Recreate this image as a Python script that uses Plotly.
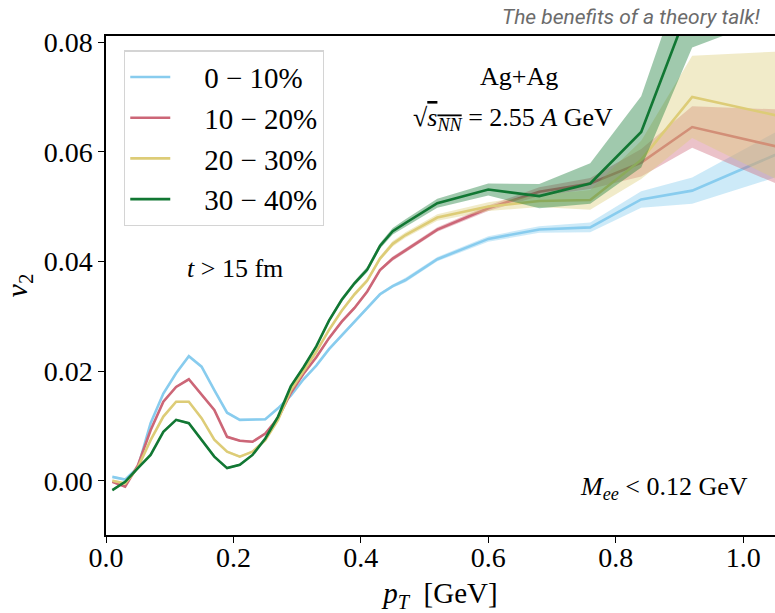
import plotly.graph_objects as go

# transverse-momentum grid [GeV]
pt = [0.01, 0.03, 0.05, 0.07, 0.09, 0.11, 0.13, 0.15, 0.17, 0.19, 0.21, 0.23,
      0.25, 0.27, 0.29, 0.31, 0.33, 0.35, 0.37, 0.39, 0.41, 0.43, 0.45, 0.47,
      0.52, 0.60, 0.68, 0.76, 0.84, 0.92, 1.08]

labels = ["0 − 10%", "10 − 20%", "20 − 30%", "30 − 40%"]
colors = ["#88CCEE", "#CC6677", "#DDCC77", "#117733"]
fills = ["rgba(136,204,238,0.42)", "rgba(204,102,119,0.40)",
         "rgba(221,204,119,0.40)", "rgba(17,119,51,0.40)"]

# elliptic flow v2 per centrality class
v2_0_10 = [0.0007, 0.0002, 0.0024, 0.0105, 0.0159, 0.0196, 0.0227, 0.0208,
           0.0165, 0.0124, 0.0111, 0.0111, 0.0112, 0.0132, 0.0155, 0.0185,
           0.0210, 0.0240, 0.0265, 0.0290, 0.0315, 0.0340, 0.0355, 0.0366,
           0.0404, 0.0441, 0.0458, 0.0462, 0.0513, 0.0529, 0.0609]
v2_10_20 = [-0.0002, -0.0011, 0.0028, 0.0092, 0.0144, 0.0171, 0.0185, 0.0156,
            0.0129, 0.0080, 0.0073, 0.0071, 0.0086, 0.0114, 0.0160, 0.0195,
            0.0225, 0.0260, 0.0290, 0.0315, 0.0345, 0.0384, 0.0405, 0.0420,
            0.0458, 0.0497, 0.0527, 0.0542, 0.0580, 0.0645, 0.0602]
v2_20_30 = [0.0000, -0.0005, 0.0024, 0.0074, 0.0117, 0.0144, 0.0144, 0.0114,
            0.0075, 0.0053, 0.0044, 0.0053, 0.0074, 0.0111, 0.0165, 0.0200,
            0.0235, 0.0275, 0.0310, 0.0340, 0.0365, 0.0405, 0.0432, 0.0448,
            0.0480, 0.0500, 0.0510, 0.0512, 0.0585, 0.0700, 0.0659]
v2_30_40 = [-0.0017, -0.0002, 0.0023, 0.0047, 0.0089, 0.0111, 0.0105, 0.0074,
            0.0044, 0.0023, 0.0029, 0.0047, 0.0077, 0.0117, 0.0172, 0.0207,
            0.0245, 0.0292, 0.0330, 0.0360, 0.0385, 0.0428, 0.0455, 0.0470,
            0.0506, 0.0531, 0.0519, 0.0542, 0.0636, 0.0880, 0.0980]

# statistical uncertainty (half width of the band)
err_0_10 = [0.0002, 0.0002, 0.0002, 0.0002, 0.0002, 0.0002, 0.0002, 0.0002,
            0.0002, 0.0002, 0.0002, 0.0002, 0.0002, 0.0002, 0.0002, 0.0002,
            0.0002, 0.0003, 0.0003, 0.0003, 0.0003, 0.0003, 0.0003, 0.0004,
            0.0004, 0.0005, 0.0006, 0.0009, 0.0015, 0.0024, 0.0045]
err_10_20 = [0.0002, 0.0002, 0.0002, 0.0002, 0.0002, 0.0002, 0.0002, 0.0002,
             0.0002, 0.0002, 0.0002, 0.0002, 0.0002, 0.0002, 0.0002, 0.0002,
             0.0003, 0.0003, 0.0003, 0.0003, 0.0003, 0.0003, 0.0004, 0.0004,
             0.0004, 0.0005, 0.0008, 0.0010, 0.0025, 0.0038, 0.0074]
err_20_30 = [0.0002, 0.0002, 0.0002, 0.0002, 0.0002, 0.0002, 0.0002, 0.0002,
             0.0002, 0.0002, 0.0002, 0.0002, 0.0002, 0.0002, 0.0002, 0.0003,
             0.0003, 0.0003, 0.0003, 0.0004, 0.0004, 0.0004, 0.0005, 0.0005,
             0.0006, 0.0008, 0.0011, 0.0018, 0.0035, 0.0075, 0.0125]
err_30_40 = [0.0002, 0.0002, 0.0002, 0.0002, 0.0002, 0.0002, 0.0002, 0.0002,
             0.0002, 0.0002, 0.0002, 0.0002, 0.0002, 0.0002, 0.0003, 0.0003,
             0.0003, 0.0004, 0.0004, 0.0004, 0.0005, 0.0005, 0.0006, 0.0007,
             0.0008, 0.0011, 0.0022, 0.0037, 0.0065, 0.0090, 0.0120]

series = [v2_0_10, v2_10_20, v2_20_30, v2_30_40]
errors = [err_0_10, err_10_20, err_20_30, err_30_40]

y_ticks = [0.00, 0.02, 0.04, 0.06, 0.08]
x_ticks = [0.0, 0.2, 0.4, 0.6, 0.8, 1.0]

SERIF = "Liberation Serif, serif"
PAD = "\u00a0\u00a0\u00a0\u00a0"  # gap between legend line sample and its label

fig = go.Figure()
for name, col, fc, v, e in zip(labels, colors, fills, series, errors):
    upper = [a + b for a, b in zip(v, e)]
    lower = [a - b for a, b in zip(v, e)]
    fig.add_trace(go.Scatter(
        x=pt + pt[::-1], y=upper + lower[::-1], fill="toself",
        fillcolor=fc, line=dict(width=0), mode="lines",
        hoverinfo="skip", showlegend=False, legendgroup=name))
    fig.add_trace(go.Scatter(
        x=pt, y=v, mode="lines", name=PAD + name, legendgroup=name,
        line=dict(color=col, width=2.6)))

fig.update_layout(
    width=775, height=613,
    margin=dict(l=106, r=0, t=36, b=78),
    paper_bgcolor="white", plot_bgcolor="white",
    font=dict(family=SERIF, color="black", size=28),
    showlegend=True,
    legend=dict(
        x=0.027, y=0.971, xanchor="left", yanchor="top",
        bgcolor="rgba(255,255,255,0.9)", bordercolor="#d4d4d4", borderwidth=1.2,
        font=dict(family=SERIF, size=29), tracegroupgap=0,
        itemwidth=40),
    xaxis=dict(
        range=[0, 1.05], tickvals=x_ticks, tickformat=".1f",
        ticks="outside", ticklen=6, tickwidth=1.3, tickcolor="black",
        ticklabelstandoff=-9,
        showline=True, linecolor="black", linewidth=1.5, mirror=True,
        showgrid=False, zeroline=False,
        tickfont=dict(family=SERIF, size=28),
        title=dict(text="<i>p</i><sub><i>T</i></sub>  [GeV]",
                   font=dict(family=SERIF, size=29), standoff=18)),
    yaxis=dict(
        range=[-0.0099, 0.0811], tickvals=y_ticks, tickformat=".2f",
        ticks="outside", ticklen=6, tickwidth=1.3, tickcolor="black",
        showline=True, linecolor="black", linewidth=1.5, mirror=False,
        showgrid=False, zeroline=False,
        tickfont=dict(family=SERIF, size=28),
        title=dict(text="<i>v</i><sub>2</sub>",
                   font=dict(family=SERIF, size=30), standoff=8)),
)

notes = [
    dict(x=0.617, y=0.918, text="Ag+Ag", size=26, xanchor="center"),
    dict(x=0.608, y=0.834,
         text="√<span style='text-decoration:overline'><i>s</i><sub><i>NN</i></sub></span>"
              " = 2.55 <i>A</i> GeV", size=26, xanchor="center"),
    dict(x=0.193, y=0.535, text="<i>t</i> > 15 fm", size=26, xanchor="center"),
    dict(x=0.962, y=0.094, text="<i>M</i><sub><i>ee</i></sub> < 0.12 GeV",
         size=26, xanchor="right"),
]
for n in notes:
    fig.add_annotation(x=n["x"], y=n["y"], xref="paper", yref="paper",
                       text=n["text"], showarrow=False, xanchor=n["xanchor"],
                       yanchor="middle",
                       font=dict(family=SERIF, size=n["size"], color="black"))

fig.add_annotation(x=1, y=1.039, xref="paper", yref="paper", xshift=-12,
                   text="<i>The benefits of a theory talk!</i>", showarrow=False,
                   xanchor="right", yanchor="middle",
                   font=dict(family="Roboto", size=21, color="#6b6b6b"))

fig.write_html("out.html")
